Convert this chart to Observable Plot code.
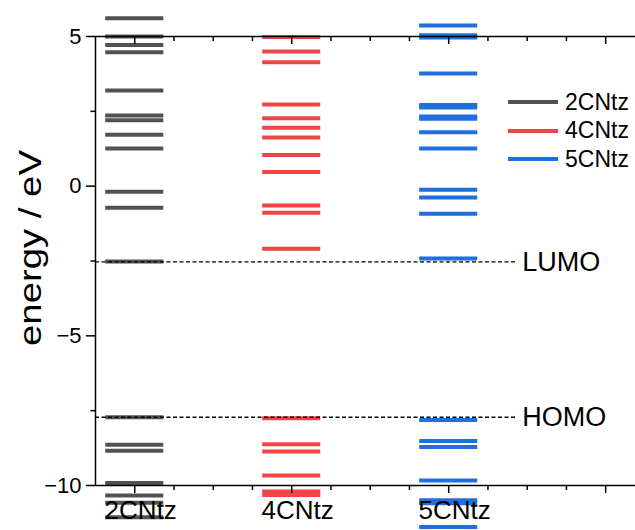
<!DOCTYPE html>
<html><head><meta charset="utf-8">
<script src="https://cdn.jsdelivr.net/npm/d3@7"></script>
<script src="https://cdn.jsdelivr.net/npm/@observablehq/plot@0.6"></script>
<style>
body{margin:0;background:#fff;font-family:"Liberation Sans",Arial,sans-serif;}
#wrap{position:relative;width:635px;height:530px;overflow:hidden;background:#fff}
#legend{position:absolute;left:508px;top:88px;}
.row{display:flex;align-items:center;height:28.5px;}
.sw{width:50px;height:4px;margin-right:7px}
.lab{font-size:23px;color:#000;line-height:1}
</style></head><body>
<div id="wrap"><div id="chart"></div><div id="legend"></div></div>
<script>
// ---- data ----
const categories = ["2CNtz", "4CNtz", "5CNtz"];
const colors = ["#525252", "#f24444", "#1f6fde"];
const levels2CNtz = [5.61, 5.0, 4.72, 4.47, 3.20, 2.36, 2.20, 1.72, 1.26, -0.19, -0.72, -2.52, -7.72, -8.64, -8.84, -9.92, -10.33, -10.58, -11.06];
const levels4CNtz = [4.98, 4.50, 4.14, 2.73, 2.27, 1.95, 1.63, 1.04, 0.47, -0.65, -0.89, -2.09, -7.75, -8.62, -8.86, -9.67, -10.20, -10.32];
const levels5CNtz = [5.37, 5.04, 4.97, 3.76, 2.71, 2.63, 2.33, 2.25, 1.80, 1.26, -0.12, -0.38, -0.92, -2.42, -7.81, -8.51, -8.71, -9.83, -10.49, -10.59, -11.39];
const frontierNames = ["LUMO", "HOMO"];
const frontierEnergies = [-2.53, -7.72];
const yTicks = [-10, -5, 0, 5];
const yMinor = [-7.5, -2.5, 2.5];
const xMajor = [1, 2, 3, 4];
const xMinor = [1.25, 1.5, 1.75, 2.25, 2.5, 2.75, 3.25, 3.5, 3.75];
const yLabel = "energy / eV";

// ---- build ----
const levels = [levels2CNtz, levels4CNtz, levels5CNtz];
const rows = categories.flatMap((c, i) => levels[i].map(e => ({series: c, pos: i + 1, energy: e})));
const frontier = frontierNames.map((n, i) => ({name: n, energy: frontierEnergies[i]}));
const half = 0.185;
const xStart = 0.75, dashEnd = 3.43;
const blank = () => "";

const chart = Plot.plot({
  width: 635, height: 530,
  marginTop: 36, marginBottom: 45, marginLeft: 95, marginRight: 0,
  x: {domain: [xStart, 4.19], axis: null},
  y: {domain: [-10, 5], axis: null},
  color: {domain: categories, range: colors},
  style: {fontFamily: "'Liberation Sans', Arial, sans-serif", background: "white", color: "black", overflow: "visible"},
  marks: [
    Plot.ruleY(rows, {y: "energy", x1: d => d.pos - half, x2: d => d.pos + half, stroke: "series", strokeWidth: 4}),
    Plot.ruleX([xStart], {stroke: "black", strokeWidth: 1.5}),
    Plot.ruleY([-10, 5], {stroke: "black", strokeWidth: 1.5}),
    Plot.axisY({ticks: yTicks, tickSize: 9, tickPadding: 5, fontSize: 22, label: null, strokeWidth: 1.5}),
    Plot.axisY({ticks: yMinor, tickSize: 4.5, tickFormat: blank, label: null, strokeWidth: 1.5}),
    Plot.axisX({ticks: xMajor, tickSize: 8, tickFormat: blank, label: null, strokeWidth: 1.5}),
    Plot.axisX({ticks: xMinor, tickSize: 5, tickFormat: blank, label: null, strokeWidth: 1.5}),
    Plot.axisX({anchor: "bottom", frameAnchor: "top", ticks: xMajor, tickSize: 8, tickFormat: blank, label: null, strokeWidth: 1.5}),
    Plot.axisX({anchor: "bottom", frameAnchor: "top", ticks: xMinor, tickSize: 5, tickFormat: blank, label: null, strokeWidth: 1.5}),
    Plot.ruleY(frontier, {y: "energy", x1: xStart, x2: dashEnd, stroke: "black", strokeDasharray: "4,2.5", strokeWidth: 1.3}),
    Plot.text(frontier, {x: dashEnd, y: "energy", text: "name", textAnchor: "start", dx: 6, fontSize: 27, fill: "black"}),
    Plot.text(categories, {x: (d, i) => i + 1, frameAnchor: "bottom", dy: 33, dx: 6, fontSize: 26, fill: "black"}),
    Plot.text([yLabel], {frameAnchor: "left", textAnchor: "middle", rotate: -90, dx: -65, dy: -13, fontSize: 32, fill: "black", className: "ytitle"})
  ]
});
document.getElementById("chart").append(chart);
chart.querySelectorAll(".ytitle text").forEach(t => {
  t.setAttribute("textLength", 196);
  t.setAttribute("lengthAdjust", "spacingAndGlyphs");
});

const legend = document.getElementById("legend");
categories.forEach((c, i) => {
  const row = document.createElement("div");
  row.className = "row";
  row.innerHTML = `<div class="sw" style="background:${colors[i]}"></div><span class="lab">${c}</span>`;
  legend.append(row);
});
</script>
</body></html>
